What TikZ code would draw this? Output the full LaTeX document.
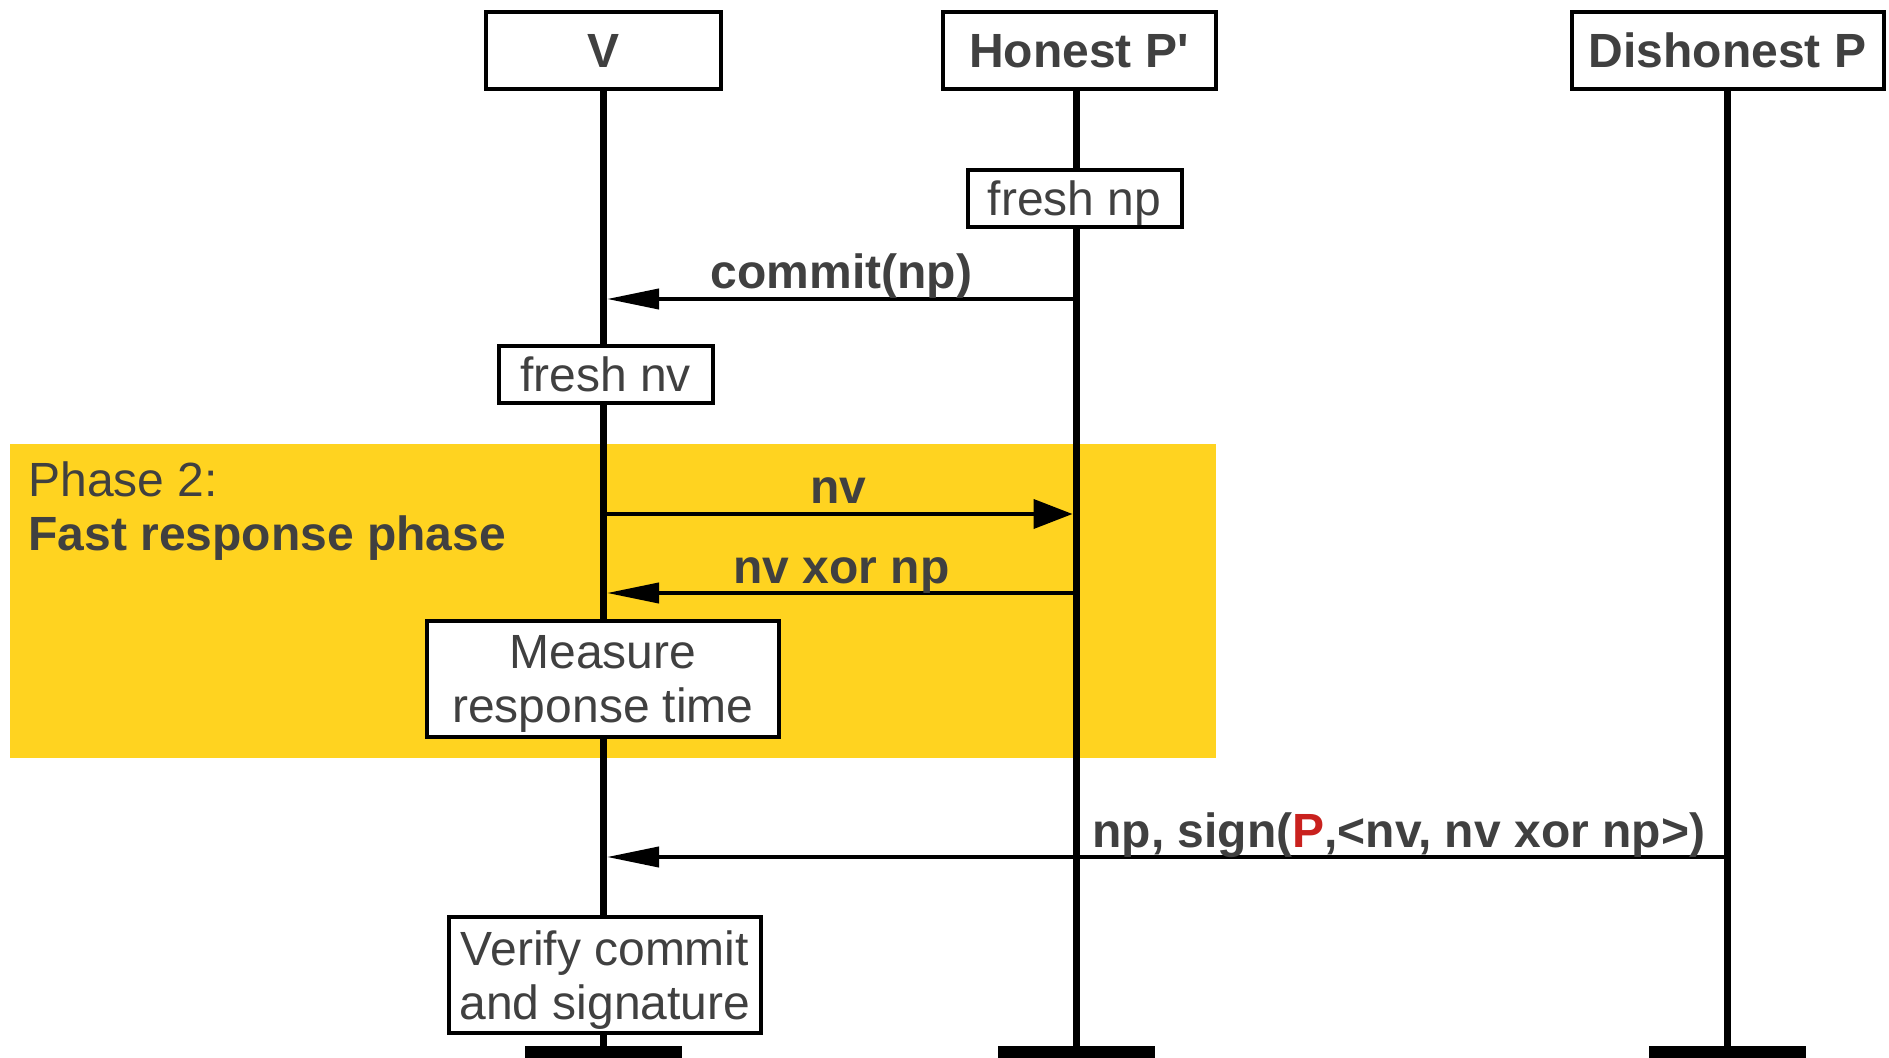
\documentclass[tikz,border=0pt]{standalone}
\usepackage{fontspec}
\setmainfont{Liberation Sans}
\usetikzlibrary{arrows.meta}
\definecolor{txt}{HTML}{404040}
\definecolor{phase}{HTML}{FFD320}
\definecolor{sigred}{HTML}{C9211E}
\begin{document}
\begin{tikzpicture}[x=0.5pt,y=-0.5pt,
  every node/.style={font=\fontsize{24}{27}\selectfont, text=txt},
  head/.style={draw=black, line width=2pt, fill=white, inner sep=0pt, text depth=0pt,
    minimum height=38.5pt, font=\fontsize{24}{27}\selectfont\bfseries},
  actbox/.style={draw=black, line width=2pt, fill=white, inner sep=0pt, text depth=0pt, align=center},
  life/.style={line width=3.5pt},
  bar/.style={fill=black, inner sep=0pt, minimum width=78.5pt, minimum height=6pt},
  msg/.style={line width=2pt},
  lbl/.style={font=\fontsize{24}{27}\selectfont\bfseries, anchor=base, inner sep=0pt},
  ltip/.style={-{Triangle[length=26pt,width=10pt]}},
  rtip/.style={-{Triangle[length=19.5pt,width=14.5pt]}},
]
\useasboundingbox (0,0) rectangle (1889,1058);
% phase region
\fill[phase] (10,444) rectangle (1216,758);
\node[anchor=base west, inner sep=0pt] (ph1) at (28,497) {Phase 2:};
\node[anchor=base west, inner sep=0pt, font=\fontsize{24}{27}\selectfont\bfseries] (ph2) at (28,551) {Fast response phase};
% heads
\node[head, minimum width=117.5pt] (V) at (603.5,50.5) {V};
\node[head, minimum width=136.5pt] (H) at (1079,50.5) {Honest P\textquotesingle};
\node[head, minimum width=156pt] (D) at (1727.5,50.5) {Dishonest P};
% lifeline ends
\coordinate (Vb) at (603.5,1052);
\coordinate (Hb) at (1076,1052);
\coordinate (Db) at (1727,1052);
\draw[life] (V.south) -- (Vb);
\draw[life] (H.south -| Hb) -- (Hb);
\draw[life] (D.south -| Db) -- (Db);
\node[bar] (Vbar) at (Vb) {};
\node[bar] (Hbar) at (Hb) {};
\node[bar] (Dbar) at (Db) {};
% activity boxes
\node[actbox, minimum width=107pt, minimum height=28.5pt] (fnp) at (1074.5,198.5) {fresh np};
\node[actbox, minimum width=107pt, minimum height=28.5pt] (fnv) at (605.5,374.5) {fresh nv};
\node[actbox, minimum width=176pt, minimum height=58pt] (meas) at (603,679) {Measure\\response time};
\node[actbox, minimum width=156pt, minimum height=58pt] (ver) at (605,975) {Verify commit\\and signature};
% messages
\coordinate (cS) at (1076,299);
\coordinate (cE) at (607,299);
\coordinate (nS) at (603.5,514);
\coordinate (nE) at (1072.5,514);
\coordinate (xS) at (1076,593);
\coordinate (xE) at (607,593);
\coordinate (sS) at (1727,857);
\coordinate (sE) at (607,857);
\draw[msg,ltip] (cS) -- node[lbl, yshift=5pt] (lc) {commit(np)} (cE);
\draw[msg,rtip] (nS) -- node[lbl, yshift=5pt] (ln) {nv} (nE);
\draw[msg,ltip] (xS) -- node[lbl, yshift=5pt] (lx) {nv xor np} (xE);
\draw[msg,ltip] (sS) -- node[lbl, pos=0, anchor=base east, xshift=-10pt, yshift=5pt] (ls) {np, sign(\textcolor{sigred}{P},<nv, nv xor np>)} (sE);
\end{tikzpicture}
\end{document}
